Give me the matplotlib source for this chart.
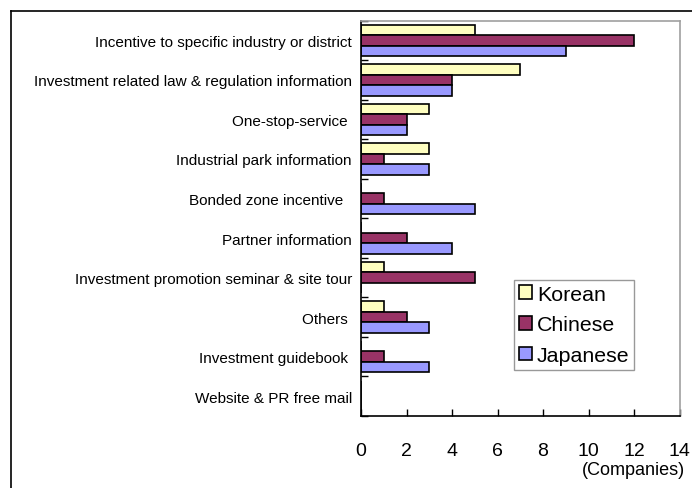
import numpy as np
import matplotlib
matplotlib.use("Agg")
import matplotlib.pyplot as plt
from matplotlib.lines import Line2D

# --- data (top to bottom as shown) ---
categories = [
    "Incentive to specific industry or district",
    "Investment related law & regulation information",
    "One-stop-service ",
    "Industrial park information",
    "Bonded zone incentive  ",
    "Partner information",
    "Investment promotion seminar & site tour",
    "Others ",
    "Investment guidebook ",
    "Website & PR free mail",
]
korean = [5, 7, 3, 3, 0, 0, 1, 1, 0, 0]
chinese = [12, 4, 2, 1, 1, 2, 5, 2, 1, 0]
japanese = [9, 4, 2, 3, 5, 4, 0, 3, 3, 0]
series_names = ["Korean", "Chinese", "Japanese"]
colors = ["#FFFFC0", "#993366", "#9999FF"]
xticks = [0, 2, 4, 6, 8, 10, 12, 14]

plt.rcParams['font.family'] = ['Liberation Sans', 'DejaVu Sans']

fig = plt.figure(figsize=(6.92, 4.89), dpi=100)
ax = fig.add_axes([361 / 692, 1 - 417 / 489, 318.5 / 692, 395.5 / 489])

n = len(categories)
ypos = np.arange(n)[::-1]  # first category at top
h = 0.265
for k, (vals, col) in enumerate(zip([korean, chinese, japanese], colors)):
    ax.barh(ypos + (1 - k) * h, vals, height=h, color=col, edgecolor='black',
            linewidth=1.2, label=series_names[k])

ax.set_xlim(0, 14)
ax.set_ylim(-0.5, n - 0.5)

# ticks at category boundaries, labels at centres
ax.set_yticks(np.arange(n + 1) - 0.5)
ax.set_yticklabels([])
ax.set_yticks(ypos, minor=True)
ax.set_yticklabels(categories, minor=True, fontsize=11)
ax.tick_params(axis='y', which='major', direction='in', length=5, width=1)
ax.tick_params(axis='y', which='minor', length=0, pad=6.5)

ax.set_xticks(xticks)
ax.set_xticklabels([str(t) for t in xticks], fontsize=14)
ax.tick_params(axis='x', direction='in', length=5, width=1, pad=18.5)

for s in ['left', 'bottom']:
    ax.spines[s].set_color('black')
    ax.spines[s].set_linewidth(1.2)
for s in ['top', 'right']:
    ax.spines[s].set_color('#A0A0A0')
    ax.spines[s].set_linewidth(1.2)

fig.text(685 / 692, 1 - 471 / 489, "(Companies)", ha='right', va='center', fontsize=13)

leg = ax.legend(loc='upper left', bbox_to_anchor=((514 - 361) / 318.5, (417 - 281) / 395.5),
                fontsize=15.4, frameon=True, fancybox=False, edgecolor='#808080',
                handlelength=0.6, handleheight=0.6, handletextpad=0.25,
                labelspacing=0.55, borderpad=0.22, borderaxespad=0)
leg.get_frame().set_linewidth(1.0)

# outer chart frame (only left and top edges visible)
fig.add_artist(Line2D([11 / 692, 11 / 692], [0, 1 - 12 / 489], color='black', lw=1.2,
                      transform=fig.transFigure))
fig.add_artist(Line2D([11 / 692, 1], [1 - 12 / 489, 1 - 12 / 489], color='black', lw=1.2,
                      transform=fig.transFigure))

fig.savefig("out.png", dpi=100)
